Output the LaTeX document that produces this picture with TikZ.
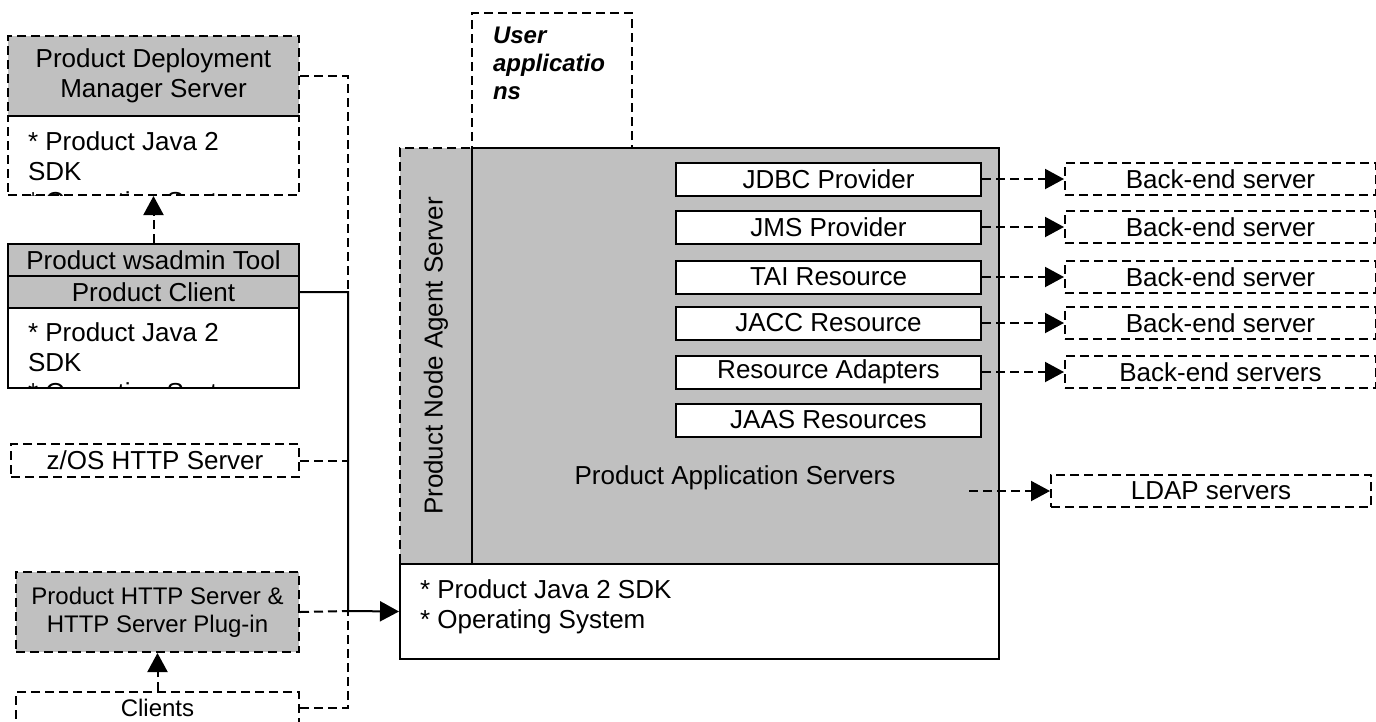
\documentclass[tikz,border=0pt]{standalone}
\usepackage{fontspec}
\setmainfont{Liberation Sans}
\usetikzlibrary{arrows.meta,positioning}
\definecolor{panel}{HTML}{C0C0C0}

\begin{document}
\begin{tikzpicture}[x=1pt,y=-1pt,line width=2pt,
  font=\fontsize{26}{30}\selectfont,
  box/.style={draw,inner sep=0pt,anchor=north west},
  dashbox/.style={box,dash pattern=on 9pt off 5pt},
  dashline/.style={dash pattern=on 9pt off 5pt},
  tip/.style={-{Triangle[length=19pt,width=20pt]}},
  small/.style={font=\fontsize{24}{28}\selectfont}]

\clip (0,0) rectangle (1376,721);

% deployment manager and wsadmin client
\node[dashbox,fill=panel,minimum width=291pt,minimum height=80pt,align=center] (dmgr) at (7,35) {Product Deployment\\Manager Server};
\node[dashbox,minimum width=291pt,minimum height=79pt] (dmgrsdk) at (7,115) {};
\begin{scope}
  \clip (dmgrsdk.north west) rectangle ([yshift=1pt]dmgrsdk.south east);
  \node[anchor=north west,inner sep=0pt,align=left] (dmgrjdk) at (27,131) {* Product Java 2\\SDK\\* Operating System};
\end{scope}

\node[box,fill=panel,minimum width=291pt,minimum height=32pt] (wsadmin) at (7,243) {Product wsadmin Tool};
\node[box,fill=panel,minimum width=291pt,minimum height=32pt] (client) at (7,275) {Product Client};
\node[box,minimum width=291pt,minimum height=80pt] (clientsdk) at (7,307) {};
\begin{scope}
  \clip (clientsdk.north west) rectangle ([yshift=1pt]clientsdk.south east);
  \node[anchor=north west,inner sep=0pt,align=left] (clientjdk) at (27,322) {* Product Java 2\\SDK\\* Operating System};
\end{scope}

% http side
\node[dashbox,minimum width=288pt,minimum height=33pt] (zos) at (10,443) {z/OS HTTP Server};
\node[dashbox,small,fill=panel,minimum width=283pt,minimum height=80pt,align=center] (http) at (15,571) {Product HTTP Server \&\\HTTP Server Plug-in};
\node[dashbox,small,minimum width=283pt,minimum height=32pt] (clients) at (15,691) {Clients};

% node agent and application servers
\node[dashbox,minimum width=160pt,minimum height=135pt] (userapps) at (471,12) {};
\node[anchor=north west,inner sep=0pt,align=left,font=\fontsize{24}{28}\selectfont\bfseries\itshape] (userlbl) at (492,26) {User\\applicatio\\ns};

\node[dashbox,fill=panel,minimum width=72pt,minimum height=416pt] (agent) at (399,147) {};
\node[rotate=90] (agentlbl) at (agent.center) {Product Node Agent Server};
\node[box,fill=panel,minimum width=527pt,minimum height=416pt] (appsrv) at (471,147) {};
\node (appsrvlbl) at (735,478) {Product Application Servers};
\node[box,fill=white,minimum width=599pt,minimum height=95pt] (base) at (399,563) {};
\node[anchor=north west,inner sep=0pt,align=left] (baselbl) at (419,579) {* Product Java 2 SDK\\* Operating System};

\foreach \name/\txt/\yc in {jdbc/JDBC Provider/179,jms/JMS Provider/227,tai/TAI Resource/277,
  jacc/JACC Resource/323,ra/Resource Adapters/372,jaas/JAAS Resources/420}
  \node[box,fill=white,anchor=west,minimum width=305pt,minimum height=33pt] (\name) at (675,\yc) {\txt};

% back-end servers
\foreach \name/\txt in {jdbc/Back-end server,jms/Back-end server,tai/Back-end server,
  jacc/Back-end server,ra/Back-end servers}{
  \node[dashbox,anchor=west,minimum width=311pt,minimum height=32pt,right=82pt of \name] (\name-be) {\txt};
  \draw[dashline,tip] (\name) -- (\name-be);
}

\node[dashbox,anchor=west,minimum width=320pt,minimum height=32pt] (ldap) at (1050,491) {LDAP servers};
\coordinate (ldapsrc) at (969,491);
\draw[dashline,tip] (ldapsrc) -- (ldap);

% connections on the left
\coordinate (junction) at (348,611);
\draw[dashline] (dmgr.east) -| (junction |- client.east);
\draw[tip] (client.east) -| (junction) -- (base.west);
\draw[dashline] (zos.east) -- (zos.east -| junction);
\draw[dashline] (http.east) -- (junction);
\draw[dashline] (clients.east) -| (junction);
\draw[dashline,tip] (wsadmin) -- (dmgrsdk);
\draw[dashline,tip] (clients) -- (http);

\end{tikzpicture}
\end{document}
